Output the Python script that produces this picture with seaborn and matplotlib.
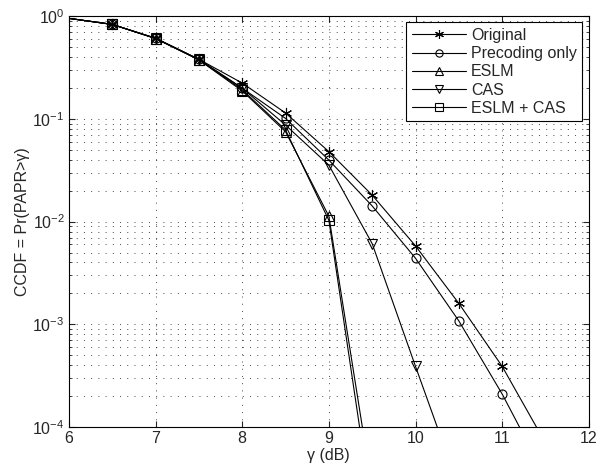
import numpy as np
import pandas as pd
import seaborn as sns
import matplotlib.pyplot as plt

# PAPR threshold (dB); last point in each series is only there so the line runs off the bottom
gamma = [6.0, 6.5, 7.0, 7.5, 8.0, 8.5, 9.0, 9.5, 10.0, 10.5, 11.0, 11.5]

original = [0.95, 0.83, 0.61, 0.38, 0.223, 0.114, 0.048, 0.0181, 0.0058, 0.0016, 3.9e-4, 7e-5]
precoding = [0.95, 0.83, 0.607, 0.379, 0.199, 0.101, 0.0397, 0.0142, 0.0044, 0.00108, 2.1e-4, 3.3e-5]
eslm = [0.95, 0.83, 0.605, 0.375, 0.187, 0.075, 0.0113, 2.5e-5]
cas = [0.95, 0.83, 0.607, 0.378, 0.199, 0.087, 0.0355, 0.0061, 3.9e-4, 2.6e-5]
eslm_cas = [0.95, 0.83, 0.605, 0.376, 0.192, 0.078, 0.0103, 1.5e-5]

series = [
    ('Original', original, (6, 2, 0)),
    ('Precoding only', precoding, 'o'),
    ('ESLM', eslm, '^'),
    ('CAS', cas, 'v'),
    ('ESLM + CAS', eslm_cas, 's'),
]

sns.set_style('ticks')
plt.rcParams['font.family'] = ['Liberation Sans', 'DejaVu Sans']
fs = 11.5

fig = plt.figure(figsize=(5.99, 4.73), dpi=100)
ax = fig.add_axes([0.115, 0.097, 0.868, 0.869])

for name, vals, mk in series:
    df = pd.DataFrame({'gamma': gamma[:len(vals)], 'ccdf': vals})
    sns.lineplot(data=df, x='gamma', y='ccdf', ax=ax, color='black', linewidth=0.8,
                 marker=mk, markersize=8 if name == 'Original' else 6.5, markerfacecolor='none',
                 markeredgecolor='black', markeredgewidth=0.8, label=name)

# no marker on the starting point at 6 dB
for ln in ax.lines:
    ln.set_markevery(slice(1, None))

ax.set_yscale('log')
ax.set_xlim(6, 12)
ax.set_ylim(1e-4, 1)
ax.set_xticks(range(6, 13))
ax.set_xlabel('γ (dB)', fontsize=fs, labelpad=1)
ax.set_ylabel('CCDF = Pr(PAPR>γ)', fontsize=fs, labelpad=2)

dots = (0, (1.4, 9))
ax.grid(True, which='major', linestyle=dots, color='black', linewidth=0.5)
ax.grid(True, which='minor', axis='y', linestyle=dots, color='black', linewidth=0.5)
ax.tick_params(which='both', direction='in', top=True, right=True, labelsize=fs, pad=3)
ax.tick_params(which='major', length=4)
ax.tick_params(which='minor', length=2)
for sp in ax.spines.values():
    sp.set_linewidth(0.8)
    sp.set_color('black')

leg = ax.legend(loc='upper right', fontsize=fs, fancybox=False, edgecolor='black',
                framealpha=1, handlelength=3.4, handletextpad=0.3, borderaxespad=0.4,
                labelspacing=0.2, borderpad=0.35, markerscale=0.8)
leg.get_frame().set_linewidth(0.8)

fig.savefig('out.png', dpi=100)
